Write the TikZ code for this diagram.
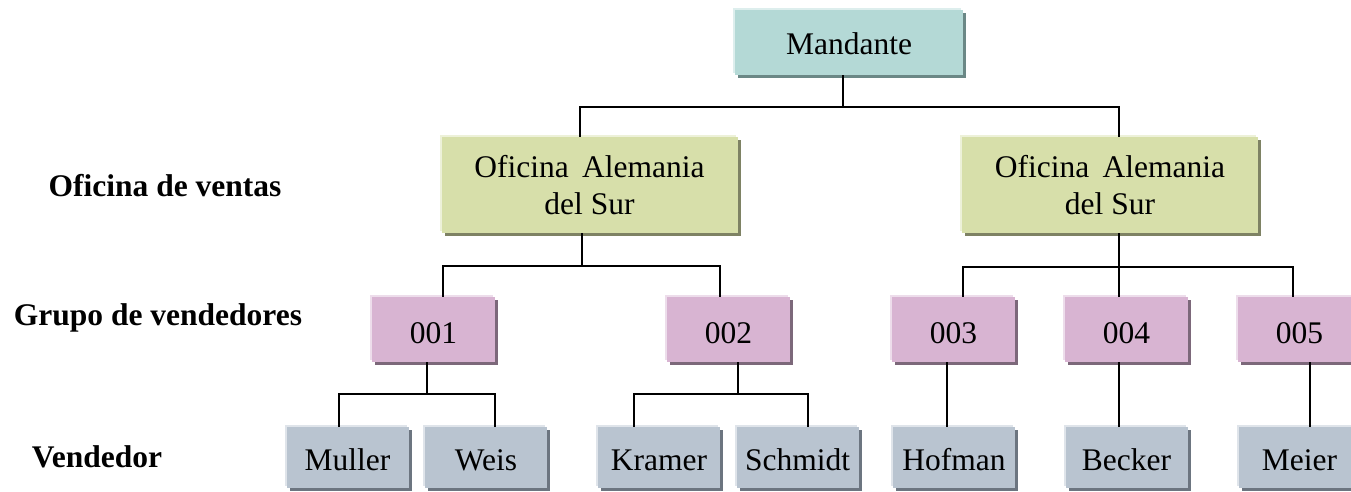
\documentclass[tikz,border=0pt]{standalone}
\usepackage{fontspec}
\setmainfont{Liberation Serif}
\usetikzlibrary{shapes,shadows,positioning}
\definecolor{mandfill}{HTML}{B4D9D6}
\definecolor{manddark}{HTML}{6B8886}
\definecolor{ofifill}{HTML}{D7DFAA}
\definecolor{ofidark}{HTML}{7E8264}
\definecolor{grpfill}{HTML}{D8B4D2}
\definecolor{grpdark}{HTML}{7C687A}
\definecolor{vendfill}{HTML}{B9C4D0}
\definecolor{venddark}{HTML}{6C7580}
\tikzset{box/.style={rectangle, inner sep=0pt, text centered, align=center,
 general shadow={shadow xshift=-2pt, shadow yshift=2pt, fill=#1fill!45!white},
 general shadow={shadow xshift=3pt, shadow yshift=-3pt, fill=#1dark}, fill=#1fill}}
\tikzset{client/.style={box=mand, minimum width=228pt, minimum height=65pt, text height=29pt, text depth=4pt}}
\tikzset{office/.style={box=ofi, minimum width=296pt, minimum height=96pt}}
\tikzset{group/.style={box=grp, minimum width=123pt, minimum height=65pt, text height=30pt, text depth=3pt}}
\tikzset{seller/.style={box=vend, minimum width=122pt, minimum height=61pt, text height=29pt, text depth=4pt}}
\tikzset{level/.style={font=\fontsize{31.5}{37}\selectfont\bfseries, anchor=base}}
\tikzset{line/.style={draw, line width=2.2pt}}

\begin{document}
\begin{tikzpicture}[x=1pt, y=-1pt, font=\fontsize{31.5}{37}\selectfont]
        \useasboundingbox (0,0) rectangle (1351,492);

        \node[level] (lofi) at (165,196) {Oficina de ventas};
        \node[level] (lgrp) at (158,325) {Grupo de vendedores};
        \node[level] (lven) at (97,467)  {Vendedor};

        \node[client] (mand) at (849,42.5) {Mandante};
        \node[office] (ofiL) at (589.5,185) {Oficina\hspace{0.42em}Alemania\\del Sur};
        \node[office] (ofiR) at (1110,185)  {Oficina\hspace{0.42em}Alemania\\del Sur};

        \node[group] (g1) at (433.5,329.5)  {001};
        \node[group] (g2) at (728.5,329.5)  {002};
        \node[group] (g3) at (953.5,329.5)  {003};
        \node[group] (g4) at (1126.5,329.5) {004};
        \node[group] (g5) at (1299.5,329.5) {005};

        \node[seller] (v1) at (347.5,457.5)  {Muller};
        \node[seller] (v2) at (486,457.5)    {Weis};
        \node[seller] (v3) at (659,457.5)    {Kramer};
        \node[seller] (v4) at (797.5,457.5)  {Schmidt};
        \node[seller] (v5) at (954,457.5)    {Hofman};
        \node[seller] (v6) at (1126.5,457.5) {Becker};
        \node[seller] (v7) at (1299.5,457.5) {Meier};

        \coordinate (jm) at (843,107);
        \coordinate (jl) at (582,266);
        \coordinate (jr) at (1119,267);
        \coordinate (j1) at (427,394);
        \coordinate (j2) at (738,394);

        \path[line] (843,0 |- mand.south) -- (jm);
        \path[line] (580,0 |- ofiL.north) |- (jm) -| (1119,0 |- ofiR.north);

        \path[line] (582,0 |- ofiL.south) -- (jl);
        \path[line] (443,0 |- g1.north) |- (jl) -| (720,0 |- g2.north);
        \path[line] (1119,0 |- ofiR.south) -- (1119,0 |- g4.north);
        \path[line] (963,0 |- g3.north) |- (jr) -| (1293,0 |- g5.north);

        \path[line] (427,0 |- g1.south) -- (j1);
        \path[line] (339,0 |- v1.north) |- (j1) -| (495,0 |- v2.north);
        \path[line] (738,0 |- g2.south) -- (j2);
        \path[line] (634,0 |- v3.north) |- (j2) -| (808,0 |- v4.north);
        \path[line] (947,0 |- g3.south) -- (947,0 |- v5.north);
        \path[line] (1119,0 |- g4.south) -- (1119,0 |- v6.north);
        \path[line] (1310,0 |- g5.south) -- (1310,0 |- v7.north);

      \end{tikzpicture}
\end{document}
